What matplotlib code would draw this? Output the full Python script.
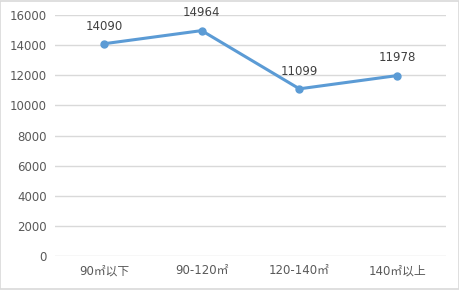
import matplotlib
matplotlib.use("Agg")
import matplotlib.pyplot as plt
from matplotlib.patches import Rectangle

plt.rcParams['font.family'] = ['DejaVu Sans', 'Noto Sans CJK SC']

categorias = ["90㎡以下", "90-120㎡", "120-140㎡", "140㎡以上"]
precios = [14090, 14964, 11099, 11978]
ticks_y = [0, 2000, 4000, 6000, 8000, 10000, 12000, 14000, 16000]

AZUL = "#5B9BD5"
TEXTO = "#595959"

fig = plt.figure(figsize=(4.6, 2.9), dpi=100)
ax = fig.add_axes([0.1196, 0.1172, 0.85, 0.8311])

x = list(range(len(categorias)))
ax.plot(x, precios, color=AZUL, linewidth=2.2, marker="o", markersize=5,
        solid_capstyle="round", zorder=3)

for xi, v in zip(x, precios):
    ax.annotate(str(v), (xi, v), xytext=(0, 8), textcoords="offset points",
                ha="center", va="bottom", fontsize=8.5, color="#404040")

ax.set_xlim(-0.5, len(categorias) - 0.5)
ax.set_ylim(0, 16000)
ax.set_yticks(ticks_y)
ax.set_yticklabels([str(t) for t in ticks_y])
ax.set_xticks(x)
ax.set_xticklabels(categorias)
ax.tick_params(axis="both", length=0, labelsize=8.5, labelcolor=TEXTO)
ax.tick_params(axis="y", pad=6)
ax.tick_params(axis="x", pad=6)

ax.grid(axis="y", color="#D9D9D9", linewidth=1)
ax.set_axisbelow(True)
for s in ax.spines.values():
    s.set_visible(False)

# marco exterior
fig.patches.append(Rectangle((0.001, 0.002), 0.996, 0.994, transform=fig.transFigure,
                             fill=False, edgecolor="#D9D9D9", linewidth=1.2))

fig.savefig("out.png", dpi=100)
